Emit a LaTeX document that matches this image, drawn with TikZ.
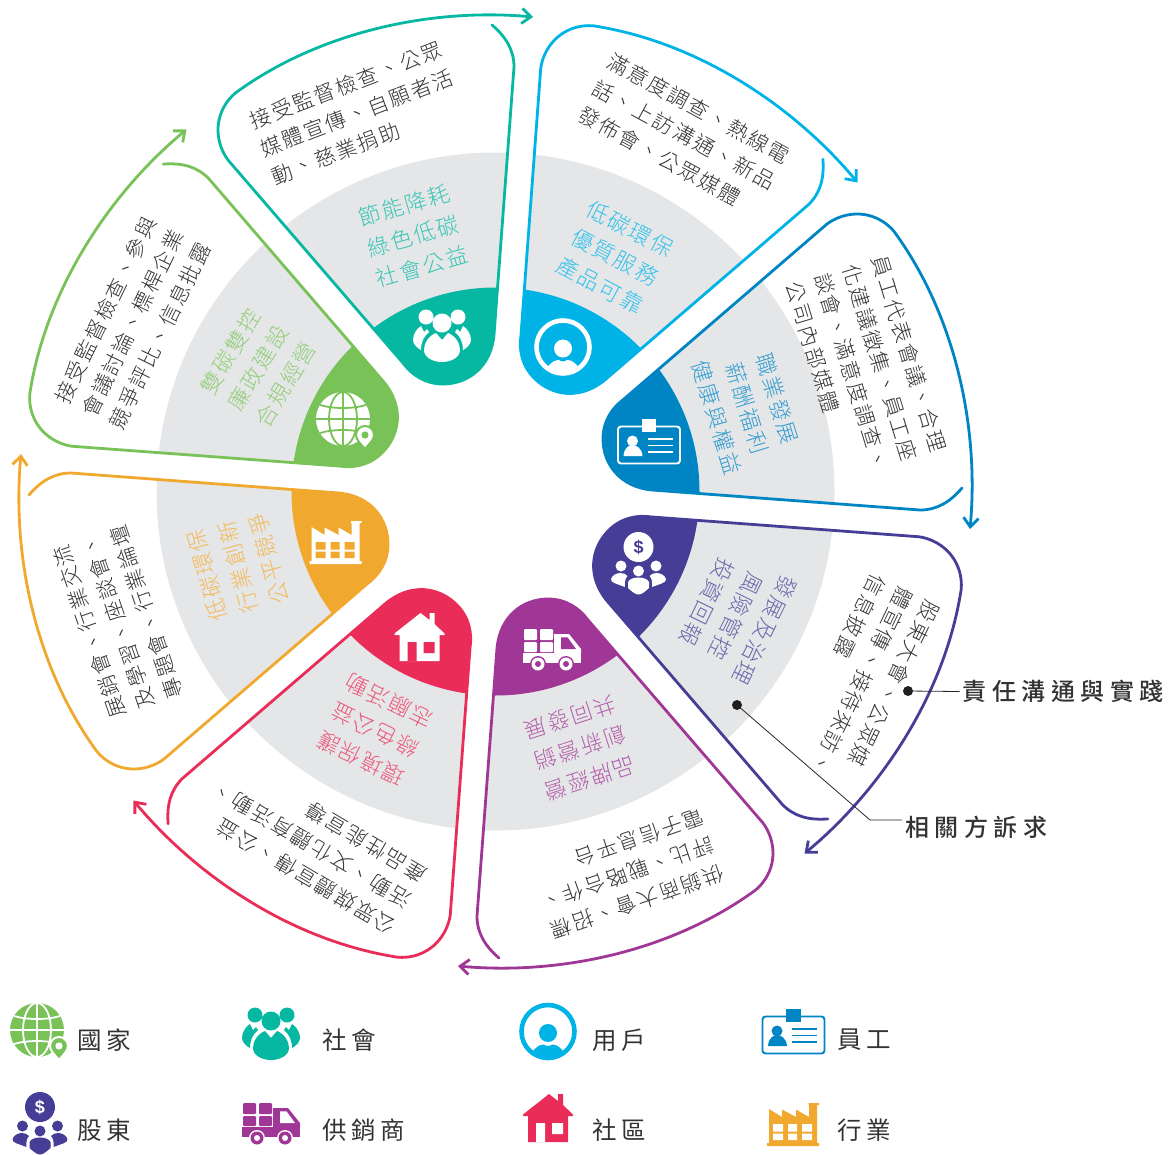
\documentclass[tikz,border=0pt]{standalone}
\usepackage{fontspec}
\usetikzlibrary{arrows.meta}
\newfontfamily\cjkl[LetterSpace=9]{Noto Sans CJK TC Light}
\newfontfamily\cjkg[LetterSpace=9]{Noto Sans CJK TC Light}
\newfontfamily\cjkr[LetterSpace=20]{Noto Sans CJK TC}
\newfontfamily\cjkm[LetterSpace=23]{Noto Sans CJK TC Medium}
\newfontfamily\latinb{Liberation Sans}
\definecolor{cTeal}{HTML}{06B8A2}
\definecolor{cCyan}{HTML}{00B3E6}
\definecolor{cBlue}{HTML}{0085C4}
\definecolor{cIndigo}{HTML}{463E96}
\definecolor{cPurple}{HTML}{A03695}
\definecolor{cRed}{HTML}{E92C58}
\definecolor{cOrange}{HTML}{F0A92E}
\definecolor{cGreen}{HTML}{78C257}
\definecolor{cGrey}{HTML}{E5E6E8}
\definecolor{cInk}{HTML}{333333}
\tikzset{
  petalshape/.style={insert path={
    (492,25) .. controls (506,37) and (514,50) .. (514,67)
    -- (494,335) .. controls (491,367) and (468,384) .. (443,384)
    .. controls (425,384) and (412,375) .. (403,363)
    -- (228,160) .. controls (222,152) and (218,141) .. (218,130)
    .. controls (218,112) and (228,97) .. (241,89)
    .. controls (325,30) and (435,8) .. (533,17)}},
  outlinepath/.style={line width=2.8pt,line join=round,line cap=round,
    -{Straight Barb[length=9pt,width=15pt,line width=2.8pt]}},
  blocktxt/.style={inner sep=0pt,align=left,text=cInk,
    font=\cjkl\fontsize{21}{30}\selectfont},
  tinttxt/.style={inner sep=0pt,align=center,text=#1!80,
    font=\cjkg\fontsize{22}{32}\selectfont},
  legendtxt/.style={inner sep=0pt,anchor=west,text=cInk,
    font=\cjkr\fontsize{24.5}{28}\selectfont},
  calltxt/.style={inner sep=3pt,anchor=west,text=cInk,
    font=\cjkm\fontsize{24}{28}\selectfont},
  dotmark/.style={circle,fill=black!88,inner sep=0pt,minimum size=10pt},
  leader/.style={draw=black!85,line width=0.8pt}
}
\newcommand\petal[2]{%
  \begin{scope}[rotate around={-45*#1:(495.5,491.5)}]
    \begin{scope}
      \path[clip,petalshape] -- cycle;
      \fill[cGrey] (495.5,491.5) circle[radius=339];
      \fill[#2] (495.5,491.5) circle[radius=204];
    \end{scope}
    \draw[#2,outlinepath,petalshape];
  \end{scope}}
% icons: x, y, fg, bg
\newcommand\iconGlobe[4]{\begin{scope}[shift={(#1,#2)}]
  \fill[#3] (0,0) circle[radius=27];
  \draw[#4,line width=1.8pt] (0,-27)--(0,27) (-27,0)--(27,0)
    (0,0) circle[x radius=14,y radius=27]
    (-23,-14) .. controls (-10,-10) and (10,-10) .. (23,-14)
    (-23,14) .. controls (-10,10) and (10,10) .. (23,14);
  \draw[#4,line width=2pt,fill=#3] (22,30) .. controls (18,25) and (13,21) .. (13,16)
    .. controls (13,11) and (17,7) .. (22,7) .. controls (27,7) and (31,11) .. (31,16)
    .. controls (31,21) and (26,25) .. (22,30) -- cycle;
  \fill[#4] (22,16) circle[radius=3.6];
\end{scope}}
\newcommand\iconPeople[4]{\begin{scope}[shift={(#1,#2)}]
  \fill[#3] (0,-13) circle[radius=9.5] (-16,-19) circle[radius=7.5] (16,-19) circle[radius=7.5];
  \fill[#3] (-6,-3) .. controls (-14,0) and (-18,8) .. (-18,14) .. controls (-18,22) and (-8,26) .. (0,26)
    .. controls (8,26) and (18,22) .. (18,14) .. controls (18,8) and (14,0) .. (6,-3) -- (0,4) -- cycle;
  \fill[#3] (-21,-10) .. controls (-26,-7) and (-29,-1) .. (-29,4) .. controls (-29,8) and (-25,12) .. (-21,14)
    .. controls (-21,6) and (-18,0) .. (-13,-4) -- (-15,-7) -- (-18,-4) -- cycle;
  \fill[#3] (21,-10) .. controls (26,-7) and (29,-1) .. (29,4) .. controls (29,8) and (25,12) .. (21,14)
    .. controls (21,6) and (18,0) .. (13,-4) -- (15,-7) -- (18,-4) -- cycle;
\end{scope}}
\newcommand\iconUser[4]{\begin{scope}[shift={(#1,#2)}]
  \begin{scope}
    \clip (0,0) circle[radius=26];
    \fill[#3] (-16,30) -- (-16,21) .. controls (-12,15) and (-8,13) .. (-4,13)
      .. controls (-2,15) and (2,15) .. (4,13) .. controls (8,13) and (12,15) .. (16,21) -- (16,30) -- cycle;
  \end{scope}
  \fill[#3] (0,1.5) circle[radius=9];
  \draw[#3,line width=4.6pt] (0,0) circle[radius=26.5];
\end{scope}}
\newcommand\iconCard[4]{\begin{scope}[shift={(#1,#2)}]
  \draw[#3,line width=1.9pt,rounded corners=3pt] (-31,-18.5) rectangle (31,18.5);
  \fill[#3] (-7.5,-26) rectangle (7,-13);
  \fill[#3] (-16.5,-4) circle[radius=5.5];
  \fill[#3] (-25.5,11) .. controls (-25,3) and (-20,0) .. (-16.5,0) .. controls (-13,0) and (-7,3) .. (-6.5,11) -- cycle;
  \draw[#3,line width=1.9pt] (-1.5,-6) -- (23.5,-6) (-1.5,0.5) -- (23.5,0.5) (-1.5,7) -- (23.5,7);
\end{scope}}
\newcommand\iconCoin[5]{\begin{scope}[shift={(#1,#2)}]
  \fill[#3] (0,0) circle[radius=15];
  \node[inner sep=0pt,text=#4,font=\latinb\bfseries\fontsize{18}{18}\selectfont] (#5) at (0,0) {\$};
  \fill[#3] (-17.5,19) circle[radius=5.5] (17.5,19) circle[radius=5.5] (0,24) circle[radius=5.5];
  \fill[#3] (-10.5,35) .. controls (-9,32) and (-5,30.5) .. (0,30.5) .. controls (5,30.5) and (9,32) .. (10.5,35)
    -- (10.5,41) .. controls (6,45) and (3,47.5) .. (0,47.5) .. controls (-3,47.5) and (-6,45) .. (-10.5,41) -- cycle;
  \fill[#3] (-27.5,32) .. controls (-26,28) and (-22,26) .. (-18,26) .. controls (-15,26) and (-13,27) .. (-11,29)
    .. controls (-13,31) and (-14,34) .. (-13.5,40) -- (-23,36.5) .. controls (-26,35.5) and (-28,34) .. (-27.5,32) -- cycle;
  \fill[#3] (27.5,32) .. controls (26,28) and (22,26) .. (18,26) .. controls (15,26) and (13,27) .. (11,29)
    .. controls (13,31) and (14,34) .. (13.5,40) -- (23,36.5) .. controls (26,35.5) and (28,34) .. (27.5,32) -- cycle;
\end{scope}}
\newcommand\iconTruck[4]{\begin{scope}[shift={(#1,#2)}]
  \fill[#3,rounded corners=1pt] (-28,-17) rectangle (-15,-6) (-12,-17) rectangle (1,-6)
    (-28,-4) rectangle (-15,6) (-12,-4) rectangle (1,6);
  \fill[#3] (-29,7) rectangle (29,17);
  \fill[#3] (2,-12) -- (17,-12) -- (29,3) -- (29,7) -- (2,7) -- cycle;
  \fill[#4] (9,-8.7) -- (15.5,-8.7) -- (24,3) -- (9,3) -- cycle;
  \fill[#4] (-14,18) circle[radius=8] (14,18) circle[radius=8];
  \fill[#3] (-14,18) circle[radius=6.5] (14,18) circle[radius=6.5];
  \fill[#4] (-14,18) circle[radius=3] (14,18) circle[radius=3];
\end{scope}}
\newcommand\iconHouse[4]{\begin{scope}[shift={(#1,#2)}]
  \fill[#3] (-25,-2) -- (-25,-3.5) -- (1,-24) -- (10,-17) -- (10,-24) -- (15,-24) -- (15,-13) -- (25,-3.5) -- (25,-2)
    -- (20,-2) -- (20,24) -- (-20,24) -- (-20,-2) -- cycle;
  \fill[#4] (-12,5) rectangle (-3,24) (4,5) rectangle (15,16);
\end{scope}}
\newcommand\iconFactory[4]{\begin{scope}[shift={(#1,#2)}]
  \fill[#3] (-24,-16) -- (-11,-8) -- (-11,-15.5) -- (3,-8) -- (3,-15.5) -- (16,-8) -- (16,-20) -- (15.5,-20) -- (15.5,-22)
    -- (26,-22) -- (26,-20) -- (24,-20) -- (24,18) -- (26,18) -- (26,21) -- (-26,21) -- (-26,18) -- (-24,18) -- cycle;
  \fill[#4] (-20,-1) rectangle (-10,6.5) (-5,-1) rectangle (4,6.5) (9,-1) rectangle (19,6.5)
    (-20,8.5) rectangle (-10,15) (-5,8.5) rectangle (4,15) (9,8.5) rectangle (19,15);
\end{scope}}
\begin{document}
\begin{tikzpicture}[x=1pt,y=-1pt]
\useasboundingbox (0,0) rectangle (1174,1154);
% petals
\petal{0}{cTeal}
\petal{1}{cCyan}
\petal{2}{cBlue}
\petal{3}{cIndigo}
\petal{4}{cPurple}
\petal{5}{cRed}
\petal{6}{cOrange}
\petal{7}{cGreen}
% nose icons
\iconGlobe{343}{419}{white}{cGreen}
\iconPeople{442}{336}{white}{cTeal}
\iconUser{563}{347}{white}{cCyan}
\iconCard{649}{445}{white}{cBlue}
\iconCoin{638.5}{547}{white}{cIndigo}{coinA}
\iconTruck{552}{646}{white}{cPurple}
\iconHouse{419.5}{637}{white}{cRed}
\iconFactory{335.5}{543}{white}{cOrange}
% texts: outer blocks
\node[blocktxt,rotate=21] (tTeal) at (357,113) {接受監督檢查、公眾\\媒體宣傳、自願者活\\動、慈業捐助};
\node[blocktxt,rotate=-28.6] (tCyan) at (684,135) {滿意度調查、熱線電\\話、上訪溝通、新品\\發佈會、公眾媒體};
\node[blocktxt,rotate=-73] (tBlue) at (866,367) {員工代表會議、合理\\化建議徵集、員工座\\談會、滿意度調查、\\公司內部媒體};
\node[blocktxt,rotate=-115.8] (tIndigo) at (862,681) {股東大會、公眾媒\\體宣傳、接待來訪、\\信息披露};
\node[blocktxt,rotate=-161] (tPurple) at (627.5,873.5) {供銷商大會、招標\\評比、戰略合作、\\電子信息平台};
\node[blocktxt,rotate=149.4] (tRed) at (311.5,845) {公眾媒體宣傳、公益\\活動、文化體育活動、\\產品性能宣導};
\node[blocktxt,rotate=109] (tOrange) at (118,622) {展銷會、行業交流\\及學習、座談會、\\專題會、行業論壇};
\node[blocktxt,rotate=64] (tGreen) at (133,323) {接受監督檢查、參與\\會議討論、標桿企業\\競爭評比、信息批露};
% texts: tinted blocks
\node[tinttxt=cTeal,rotate=16] (gTeal) at (413,236) {節能降耗\\綠色低碳\\社會公益};
\node[tinttxt=cCyan,rotate=-28] (gCyan) at (615,257) {低碳環保\\優質服務\\產品可靠};
\node[tinttxt=cBlue,rotate=-73] (gBlue) at (747,408) {職業發展\\薪酬福利\\健康與權益};
\node[tinttxt=cIndigo,rotate=-116] (gIndigo) at (736,616) {發展及治理\\風險管控\\投資回報};
\node[tinttxt=cPurple,rotate=-162] (gPurple) at (580,748) {品牌經營\\創新營銷\\共同發展};
\node[tinttxt=cRed,rotate=154] (gRed) at (375,730) {環境保護\\綠色公益\\志願活動};
\node[tinttxt=cOrange,rotate=105] (gOrange) at (238,567) {低碳環保\\行業創新\\公平競爭};
\node[tinttxt=cGreen,rotate=59] (gGreen) at (258,368) {雙碳雙控\\廉政建設\\合規經營};
% call-outs
\node[dotmark] (dotA) at (908,691) {};
\node[dotmark] (dotB) at (737,705) {};
\node[calltxt] (labA) at (959.5,691.5) {責任溝通與實踐};
\node[calltxt] (labB) at (902,827) {相關方訴求};
\coordinate (bendB) at (870,820);
\draw[leader] (dotA.center) -- (labA.west);
\draw[leader] (dotB.center) -- (bendB) -- (labB.west |- bendB);
% legend
\iconGlobe{37}{1030}{cGreen}{white}
\iconPeople{271}{1034}{cTeal}{white}
\iconUser{548}{1031.5}{cCyan}{white}
\iconCard{793.5}{1035}{cBlue}{white}
\iconCoin{40}{1107}{cIndigo}{white}{coinB}
\iconTruck{271}{1120}{cPurple}{white}
\iconHouse{548}{1118}{cRed}{white}
\iconFactory{793}{1125}{cOrange}{white}
\node[legendtxt] (l1) at (77,1040) {國家};
\node[legendtxt] (l2) at (322,1040) {社會};
\node[legendtxt] (l3) at (592,1040) {用戶};
\node[legendtxt] (l4) at (837,1040) {員工};
\node[legendtxt] (l5) at (77,1130) {股東};
\node[legendtxt] (l6) at (322,1130) {供銷商};
\node[legendtxt] (l7) at (592,1130) {社區};
\node[legendtxt] (l8) at (837,1130) {行業};
\end{tikzpicture}
\end{document}
